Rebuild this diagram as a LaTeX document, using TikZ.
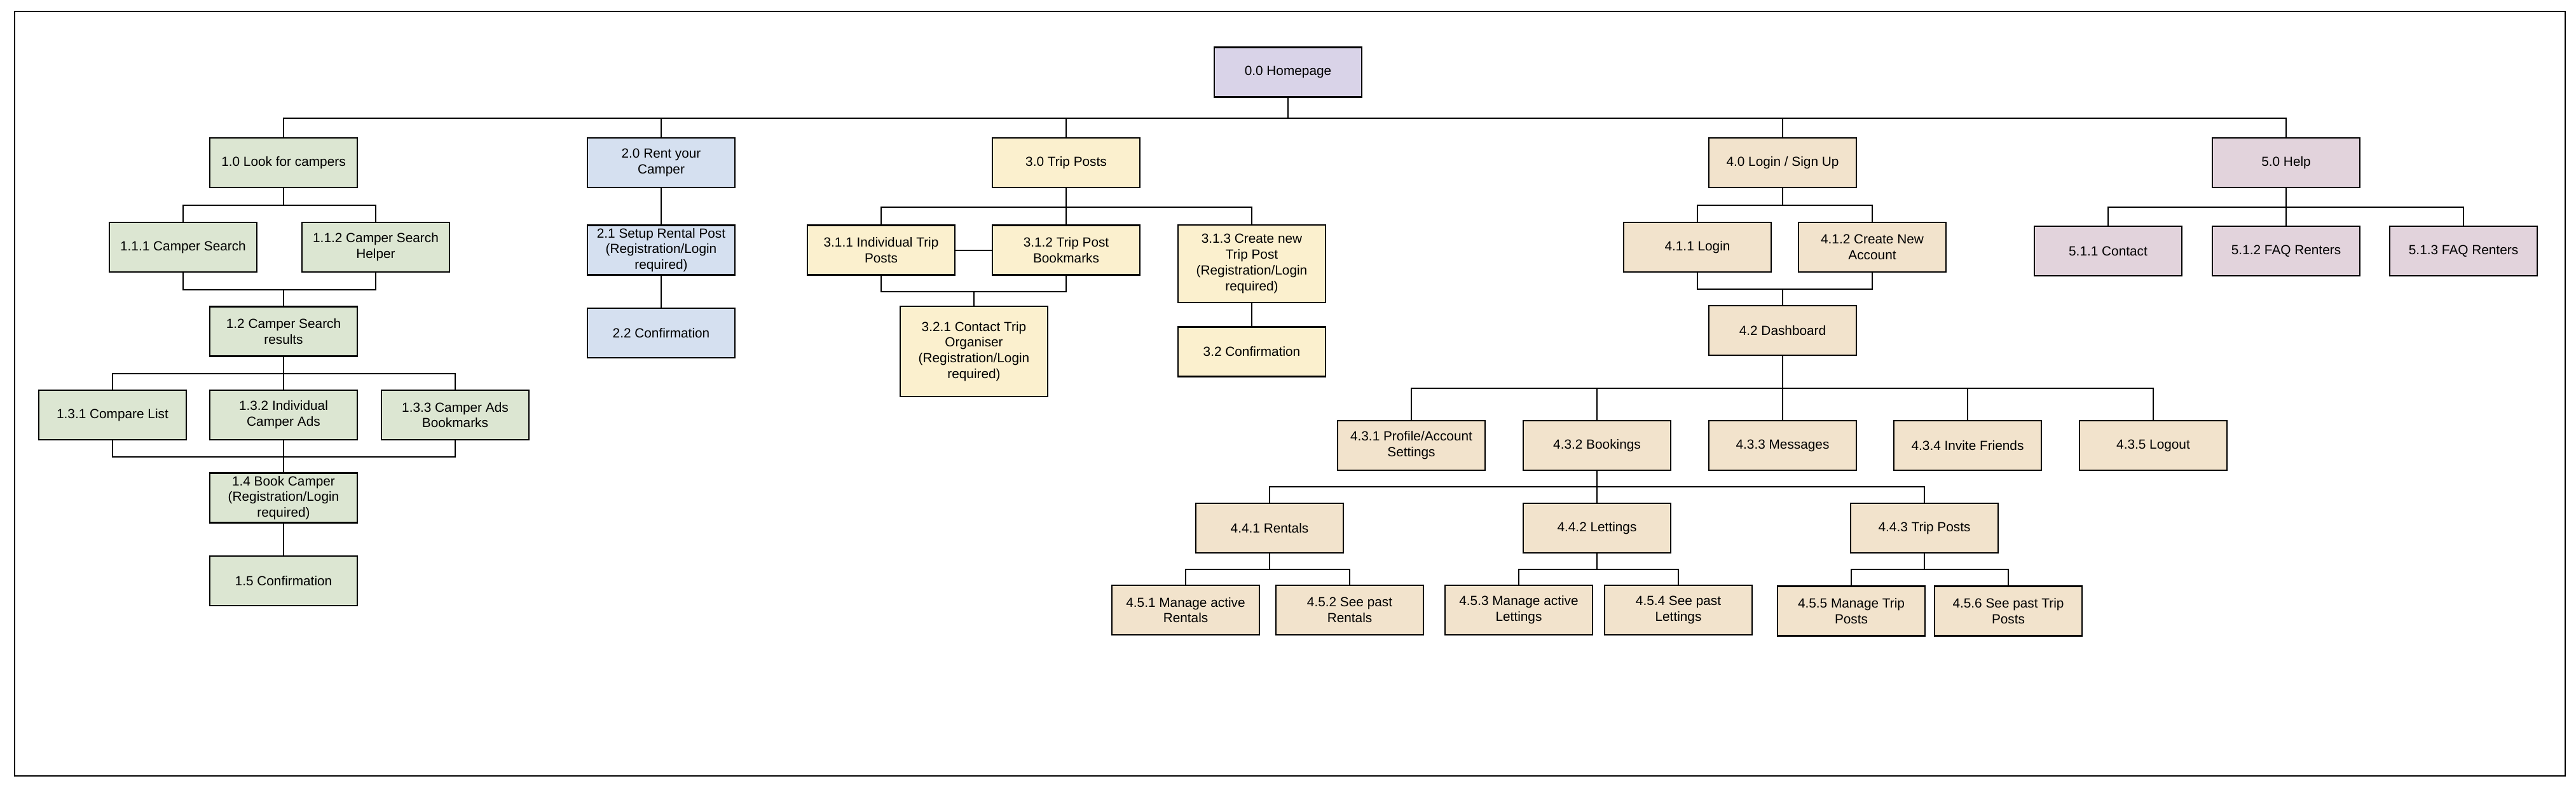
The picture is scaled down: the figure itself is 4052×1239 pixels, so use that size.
\documentclass[tikz,border=0pt]{standalone}
\usepackage{fontspec}
\setmainfont{Liberation Sans}
\definecolor{lookgreen}{HTML}{DCE6D2}
\definecolor{rentblue}{HTML}{D5E0F0}
\definecolor{tripyellow}{HTML}{FBF0CE}
\definecolor{logintan}{HTML}{F2E3CC}
\definecolor{homepurple}{HTML}{D9D3E8}
\definecolor{helppink}{HTML}{E2D3DC}
\begin{document}
\begin{tikzpicture}[x=0.5pt,y=-0.5pt,
    page/.style={draw=black, line width=1.1pt, minimum width=116pt, minimum height=39pt,
        align=center, inner sep=2pt, font=\fontsize{10.4}{12.4}\selectfont},
    link/.style={draw=black, line width=1pt}]
    \useasboundingbox (0,0) rectangle (4052,1239);
    \draw[line width=1pt] (23,18) rectangle (4035,1221);

    % homepage
    \node[page, fill=homepurple] (n00) at (2026,113.5) {0.0 Homepage};

    % look for campers
    \node[page, fill=lookgreen] (n10) at (446,256) {1.0 Look for campers};
    \node[page, fill=lookgreen] (n111) at (288,389) {1.1.1 Camper Search};
    \node[page, fill=lookgreen] (n112) at (591,389) {1.1.2 Camper Search\\Helper};
    \node[page, fill=lookgreen] (n12) at (446,521.5) {1.2 Camper Search\\results};
    \node[page, fill=lookgreen] (n131) at (177,653) {1.3.1 Compare List};
    \node[page, fill=lookgreen] (n132) at (446,653) {1.3.2 Individual\\Camper Ads};
    \node[page, fill=lookgreen] (n133) at (716,653) {1.3.3 Camper Ads\\Bookmarks};
    \node[page, fill=lookgreen] (n14) at (446,783.5) {1.4 Book Camper\\(Registration/Login\\required)};
    \node[page, fill=lookgreen] (n15) at (446,914) {1.5 Confirmation};

    % rent your camper
    \node[page, fill=rentblue] (n20) at (1040,256) {2.0 Rent your\\Camper};
    \node[page, fill=rentblue] (n21) at (1040,393.5) {2.1 Setup Rental Post\\(Registration/Login\\required)};
    \node[page, fill=rentblue] (n22) at (1040,524) {2.2 Confirmation};

    % trip posts
    \node[page, fill=tripyellow] (n30) at (1677,256) {3.0 Trip Posts};
    \node[page, fill=tripyellow] (n311) at (1386,393.5) {3.1.1 Individual Trip\\Posts};
    \node[page, fill=tripyellow] (n312) at (1677,393.5) {3.1.2 Trip Post\\Bookmarks};
    \node[page, fill=tripyellow, minimum height=61pt] (n313) at (1969,415) {3.1.3 Create new\\Trip Post\\(Registration/Login\\required)};
    \node[page, fill=tripyellow, minimum height=71pt] (n321) at (1532,553) {3.2.1 Contact Trip\\Organiser\\(Registration/Login\\required)};
    \node[page, fill=tripyellow] (n32) at (1969,553.5) {3.2 Confirmation};

    % login / sign up
    \node[page, fill=logintan] (n40) at (2804,256) {4.0 Login / Sign Up};
    \node[page, fill=logintan] (n411) at (2670,389) {4.1.1 Login};
    \node[page, fill=logintan] (n412) at (2945,389) {4.1.2 Create New\\Account};
    \node[page, fill=logintan] (n42) at (2804,520) {4.2 Dashboard};
    \node[page, fill=logintan] (n431) at (2220,701) {4.3.1 Profile/Account\\Settings};
    \node[page, fill=logintan] (n432) at (2512,701) {4.3.2 Bookings};
    \node[page, fill=logintan] (n433) at (2804,701) {4.3.3 Messages};
    \node[page, fill=logintan] (n434) at (3095,701) {4.3.4 Invite Friends};
    \node[page, fill=logintan] (n435) at (3387,701) {4.3.5 Logout};
    \node[page, fill=logintan] (n441) at (1997,831) {4.4.1 Rentals};
    \node[page, fill=logintan] (n442) at (2512,831) {4.4.2 Lettings};
    \node[page, fill=logintan] (n443) at (3027,831) {4.4.3 Trip Posts};
    \node[page, fill=logintan] (n451) at (1865,960) {4.5.1 Manage active\\Rentals};
    \node[page, fill=logintan] (n452) at (2123,960) {4.5.2 See past\\Rentals};
    \node[page, fill=logintan] (n453) at (2389,960) {4.5.3 Manage active\\Lettings};
    \node[page, fill=logintan] (n454) at (2640,960) {4.5.4 See past\\Lettings};
    \node[page, fill=logintan] (n455) at (2912,961.5) {4.5.5 Manage Trip\\Posts};
    \node[page, fill=logintan] (n456) at (3159,961.5) {4.5.6 See past Trip\\Posts};

    % help
    \node[page, fill=helppink] (n50) at (3596,256) {5.0 Help};
    \node[page, fill=helppink] (n511) at (3316,395) {5.1.1 Contact};
    \node[page, fill=helppink] (n512) at (3596,395) {5.1.2 FAQ Renters};
    \node[page, fill=helppink] (n513) at (3875,395) {5.1.3 FAQ Renters};

    % connectors
    \foreach \c in {n10,n20,n30,n40,n50}
        \draw[link] (n00.south) -- ++(0,32) -| (\c.north);

    \foreach \c in {n111,n112} {
        \draw[link] (n10.south) -- ++(0,27) -| (\c.north);
        \draw[link] (\c.south) -- ++(0,27) -| (n12.north);
    }
    \foreach \c in {n131,n132,n133} {
        \draw[link] (n12.south) -- ++(0,26) -| (\c.north);
        \draw[link] (\c.south) -- ++(0,26) -| (n14.north);
    }
    \draw[link] (n14) -- (n15);

    \draw[link] (n20) -- (n21);
    \draw[link] (n21) -- (n22);

    \foreach \c in {n311,n312,n313}
        \draw[link] (n30.south) -- ++(0,30) -| (\c.north);
    \draw[link] (n311) -- (n312);
    \foreach \c in {n311,n312}
        \draw[link] (\c.south) -- ++(0,25) -| (n321.north);
    \draw[link] (n313) -- (n32);

    \foreach \c in {n411,n412} {
        \draw[link] (n40.south) -- ++(0,27) -| (\c.north);
        \draw[link] (\c.south) -- ++(0,26) -| (n42.north);
    }
    \foreach \c in {n431,n432,n433,n434,n435}
        \draw[link] (n42.south) -- ++(0,51) -| (\c.north);
    \foreach \c in {n441,n442,n443}
        \draw[link] (n432.south) -- ++(0,25) -| (\c.north);
    \foreach \c in {n451,n452}
        \draw[link] (n441.south) -- ++(0,25) -| (\c.north);
    \foreach \c in {n453,n454}
        \draw[link] (n442.south) -- ++(0,25) -| (\c.north);
    \foreach \c in {n455,n456}
        \draw[link] (n443.south) -- ++(0,25) -| (\c.north);

    \foreach \c in {n511,n512,n513}
        \draw[link] (n50.south) -- ++(0,30) -| (\c.north);
\end{tikzpicture}
\end{document}
